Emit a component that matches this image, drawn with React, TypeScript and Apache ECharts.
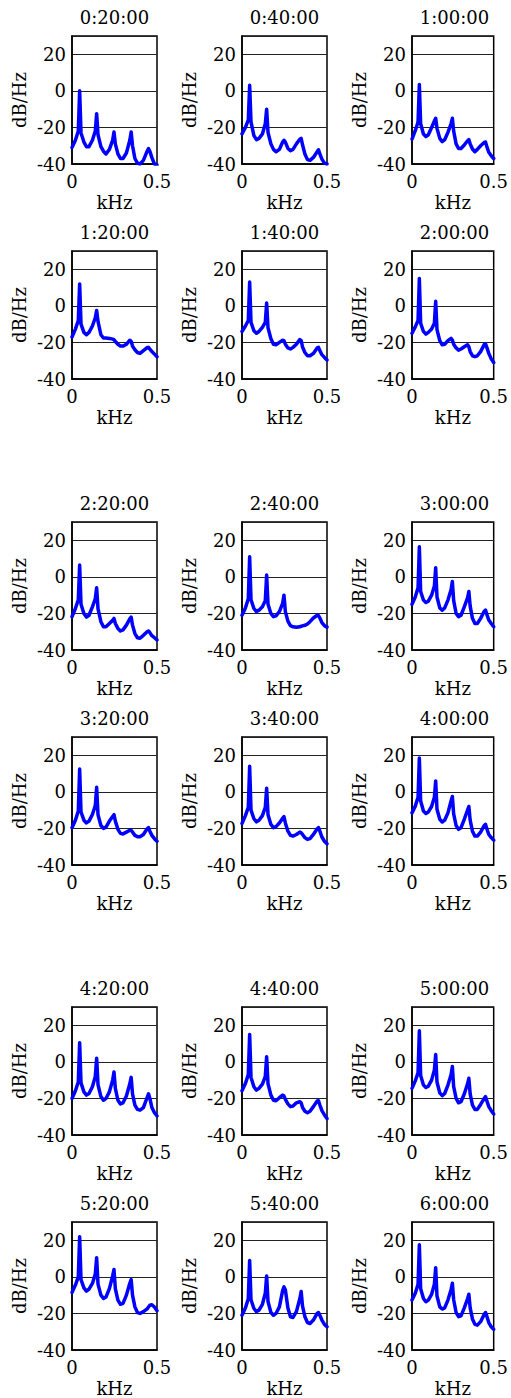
import React, { useEffect, useRef } from 'react';
import * as echarts from 'echarts';

// Frequency axis (kHz) at which the spectra are sampled
const FREQ_KHZ = [
  0, 0.02, 0.037, 0.045, 0.053, 0.07, 0.085,
  0.1, 0.12, 0.137, 0.145, 0.153, 0.17, 0.185,
  0.2, 0.22, 0.239, 0.247, 0.255, 0.27, 0.285,
  0.3, 0.32, 0.34, 0.348, 0.356, 0.37, 0.385,
  0.4, 0.42, 0.442, 0.45, 0.458, 0.47, 0.485,
  0.5,
];

const TIME_LABELS = [
  '0:20:00', '0:40:00', '1:00:00',
  '1:20:00', '1:40:00', '2:00:00',
  '2:20:00', '2:40:00', '3:00:00',
  '3:20:00', '3:40:00', '4:00:00',
  '4:20:00', '4:40:00', '5:00:00',
  '5:20:00', '5:40:00', '6:00:00',
];

const Y_TICKS = [-40, -20, 0, 20];
const X_TICKS = [0, 0.5];

// PSD values (dB/Hz) per time stamp
const PSD_0020 = [-31, -27, -22, 0, -23, -28, -30.5, -30.5, -27, -22, -12.5, -24, -30.5, -33, -34.5, -32, -27, -22.5, -29, -34.5, -37, -37, -34, -27, -22.5, -30, -37, -39.5, -40, -38, -33, -31.5, -33, -36.5, -40, -40.5];
const PSD_0040 = [-23.5, -20, -16, 3, -17, -24.5, -26.7, -26, -23.6, -18, -10, -22.7, -29, -32, -33.3, -32, -28, -27, -28, -31.5, -32.7, -32, -29, -26.5, -26, -29.5, -34.5, -37.6, -38, -36.4, -33.3, -32.2, -34.5, -37.3, -39.5, -40];
const PSD_0100 = [-26.4, -21.8, -17, 3.5, -18, -23.6, -25, -24, -20, -16.5, -15, -20.5, -26, -27.8, -26.7, -22.7, -18, -15, -22, -29, -31.5, -31.5, -29.6, -27.3, -26.7, -29, -31.8, -33.3, -32, -30, -28.2, -28, -30.5, -33.6, -35.5, -37];
const PSD_0120 = [-17, -12.7, -8, 12, -10, -14.5, -15.8, -14.5, -11, -6.5, -2.5, -8.5, -15.8, -17.6, -17.6, -17.8, -18.2, -18.5, -19.5, -21, -22, -22, -21, -18.8, -19.4, -22, -24, -25.5, -26, -24.5, -22.8, -22.7, -23.6, -25, -26.4, -27.8];
const PSD_0140 = [-14, -11, -8, 13, -9, -13.6, -15, -14, -11.8, -9, 1.5, -12, -18, -21, -21.3, -20, -18.8, -19, -21, -23, -23.6, -22.7, -21, -18.4, -19, -22.5, -25.5, -27.3, -27.3, -26, -23, -22.7, -24.5, -26.7, -28.2, -29.6];
const PSD_0200 = [-15, -11.5, -8, 15, -9.5, -14, -15.5, -14.5, -12.7, -9.5, 2.5, -13, -19, -21.3, -21, -19, -17.8, -18.7, -21, -23, -24.2, -23.6, -22.4, -21.3, -22.4, -25, -27.3, -27.8, -27.3, -25, -21.2, -20.8, -22.7, -26, -29, -31];
const PSD_0220 = [-21.8, -17.3, -12.5, 6.5, -15, -20, -22, -21, -16.4, -12, -6, -17.5, -24.5, -27.3, -27.3, -25.5, -23.8, -22.7, -25.5, -28.2, -29.6, -29, -26.4, -23, -22, -26.4, -31, -33.3, -33.6, -32, -30, -29.6, -30.5, -32.2, -33.3, -34.5];
const PSD_0240 = [-21, -17, -12, 11, -12.5, -17.3, -19, -18.2, -16.4, -13, 1, -15, -20, -21.8, -21.3, -19, -14.5, -10, -19, -24.2, -26.7, -27.3, -27.6, -27.3, -27, -26.8, -26.5, -25.8, -24.5, -22.5, -21, -21.2, -22.5, -25, -26.7, -27.5];
const PSD_0300 = [-15, -11, -6, 16.5, -8, -12.7, -14, -13.3, -10, -5, 5, -11, -17, -18.2, -17, -12.7, -7, -2.5, -13, -20, -21.8, -21, -16.4, -11.5, -8, -16, -22.7, -25.5, -25.5, -22.7, -18.8, -18.2, -20.5, -23.6, -25.5, -27.3];
const PSD_0320 = [-19.6, -15.5, -10.5, 12.5, -11, -15.5, -17, -16, -12.4, -7.5, 2.5, -12.5, -18.4, -20, -19.3, -16, -13.5, -12.5, -16, -20.5, -22.7, -23, -22, -21, -21, -22, -23.8, -24.5, -24.5, -23.3, -20.2, -19.6, -21.5, -23.8, -25.6, -27];
const PSD_0340 = [-17.3, -13, -8.5, 14, -10, -14.7, -16.4, -15.5, -13, -8.5, 2, -12.5, -17.8, -19.6, -19, -17, -14.5, -13.5, -17, -21.5, -23.8, -24.2, -23.3, -22, -22.4, -23.3, -25, -26, -25.6, -23.3, -20.2, -19.6, -21.5, -24.7, -27, -28.4];
const PSD_0400 = [-11.5, -7.8, -3, 18.5, -5, -10.5, -11.8, -11, -8, -3, 6, -9.5, -15, -16.5, -15.5, -11.5, -5, -2.5, -12, -18.4, -20.5, -19.6, -15, -10, -8, -15.5, -21.5, -24.2, -24.2, -22, -18.4, -17.8, -20.2, -23.3, -25, -26.4];
const PSD_0420 = [-20, -15.8, -11, 10.5, -11.5, -16.4, -18.2, -17.3, -13.6, -8, 2, -12.5, -19, -21, -20, -16.4, -10, -5.5, -14.5, -21, -23, -22.4, -18.7, -12, -8.5, -17.5, -23.6, -26, -26.4, -25, -19.5, -17.5, -20, -25, -27.8, -29.6];
const PSD_0440 = [-15.8, -11.8, -7, 15, -8.5, -13.6, -15.5, -14.5, -12.2, -8, 2.8, -12, -18.2, -21, -21.3, -19.6, -18.2, -18.7, -20.5, -23, -24.5, -24.2, -22.4, -21.8, -22.4, -25, -27, -27.8, -27, -24.5, -21.4, -21.3, -23.6, -26.7, -29, -31];
const PSD_0500 = [-14.5, -10.4, -6, 17, -7.5, -12.7, -14, -13.3, -10, -4.5, 4, -11, -17, -18.5, -17.3, -12.7, -7, -2.5, -13.5, -20, -22.4, -21.8, -17.6, -12, -9, -17.5, -23.6, -26, -26, -23.3, -20, -19, -21.3, -24.5, -26.7, -28.5];
const PSD_0520 = [-8.5, -4.5, 0, 22, -1.5, -6, -7.8, -6.7, -3.6, 1.5, 10.5, -4, -10, -11.8, -11, -6.4, 0.5, 4, -6.5, -12.7, -15, -14.5, -10, -3.5, -1.5, -10, -16.4, -19.5, -20, -19, -17.5, -16.5, -15.5, -15.3, -16.5, -18.5];
const PSD_0540 = [-21, -17, -12, 9, -12.5, -17.3, -19, -18.2, -15, -9, 0.5, -13.5, -19.5, -21, -20, -16.4, -7.5, -5.5, -7, -17, -21.8, -22.2, -19, -12, -8, -16, -21.8, -25, -25.5, -23.6, -20, -19.5, -21, -23.6, -26, -27.3];
const PSD_0600 = [-12.7, -9, -4, 17.5, -6.5, -11.8, -13.6, -12.7, -9.6, -4, 5, -10.5, -16.4, -17.6, -17, -12.7, -7, -3.5, -12.5, -19.5, -21.8, -21.3, -17, -12, -9.5, -17, -23, -26, -26.4, -24.5, -20.5, -19.5, -21.5, -25, -27.3, -28.7];

const PANELS = [
  PSD_0020, PSD_0040, PSD_0100,
  PSD_0120, PSD_0140, PSD_0200,
  PSD_0220, PSD_0240, PSD_0300,
  PSD_0320, PSD_0340, PSD_0400,
  PSD_0420, PSD_0440, PSD_0500,
  PSD_0520, PSD_0540, PSD_0600,
];

// layout (px)
const COL_LEFT = [72, 242, 412];
const ROW_TOP = [36, 251, 522, 737, 1007, 1222];
const PLOT_W = 85;
const PLOT_H = 128;
const FONT = 'DejaVu Serif';
const FONT_SIZE = 18;

export default function App() {
  const ref = useRef<HTMLDivElement>(null);

  useEffect(() => {
    if (!ref.current) return;
    const chart = echarts.init(ref.current, undefined, { renderer: 'svg' });
    const grid: any[] = [];
    const xAxis: any[] = [];
    const yAxis: any[] = [];
    const series: any[] = [];
    const graphic: any[] = [];

    PANELS.forEach((vals, i) => {
      const r = Math.floor(i / 3);
      const c = i % 3;
      const left = COL_LEFT[c];
      const top = ROW_TOP[r];
      grid.push({
        left, top, width: PLOT_W, height: PLOT_H,
        show: true, borderColor: '#000', borderWidth: 1.5, backgroundColor: 'transparent',
        containLabel: false,
      });
      xAxis.push({
        gridIndex: i,
        type: 'value',
        min: X_TICKS[0],
        max: X_TICKS[X_TICKS.length - 1],
        interval: X_TICKS[1] - X_TICKS[0],
        name: 'kHz',
        nameLocation: 'middle',
        nameGap: 29,
        nameMoveOverlap: false,
        nameTextStyle: { fontFamily: FONT, fontSize: FONT_SIZE, color: '#000' },
        axisLine: { show: true, onZero: false, lineStyle: { color: '#000', width: 1.5 } },
        axisTick: { show: false },
        splitLine: { show: false },
        axisLabel: {
          margin: 8, color: '#000', fontFamily: FONT, fontSize: FONT_SIZE,
          showMinLabel: true, showMaxLabel: true, hideOverlap: false,
        },
      });
      yAxis.push({
        gridIndex: i,
        type: 'value',
        min: Y_TICKS[0],
        max: 30,
        interval: Y_TICKS[1] - Y_TICKS[0],
        name: 'dB/Hz',
        nameLocation: 'middle',
        nameGap: 44,
        nameMoveOverlap: false,
        nameTextStyle: { fontFamily: FONT, fontSize: FONT_SIZE, color: '#000' },
        axisLine: { show: true, onZero: false, lineStyle: { color: '#000', width: 1.5 } },
        axisTick: { show: false },
        splitLine: { show: true, lineStyle: { color: '#222', width: 1 } },
        axisLabel: {
          margin: 6, color: '#000', fontFamily: FONT, fontSize: FONT_SIZE,
          showMinLabel: true, showMaxLabel: false, hideOverlap: false,
          formatter: (v: number) => (Y_TICKS.indexOf(v) >= 0 ? String(v) : ''),
        },
      });
      series.push({
        type: 'line',
        xAxisIndex: i,
        yAxisIndex: i,
        data: FREQ_KHZ.map((f, k) => [f, vals[k]]),
        showSymbol: false,
        symbol: 'none',
        silent: true,
        clip: true,
        lineStyle: { color: '#0000ff', width: 3.5, cap: 'round', join: 'round' },
      });
      graphic.push({
        type: 'text',
        x: left + PLOT_W / 2,
        y: top - 19,
        silent: true,
        style: {
          text: TIME_LABELS[i],
          fontFamily: FONT,
          fontSize: FONT_SIZE,
          fill: '#000',
          align: 'center',
          verticalAlign: 'middle',
        },
      });
    });

    chart.setOption({
      animation: false,
      backgroundColor: '#fff',
      grid,
      xAxis,
      yAxis,
      series,
      graphic,
    });
    return () => chart.dispose();
  }, []);

  return (
    <div
      ref={ref}
      style={{ position: 'absolute', left: 0, top: 0, width: 511, height: 1398 }}
    />
  );
}
